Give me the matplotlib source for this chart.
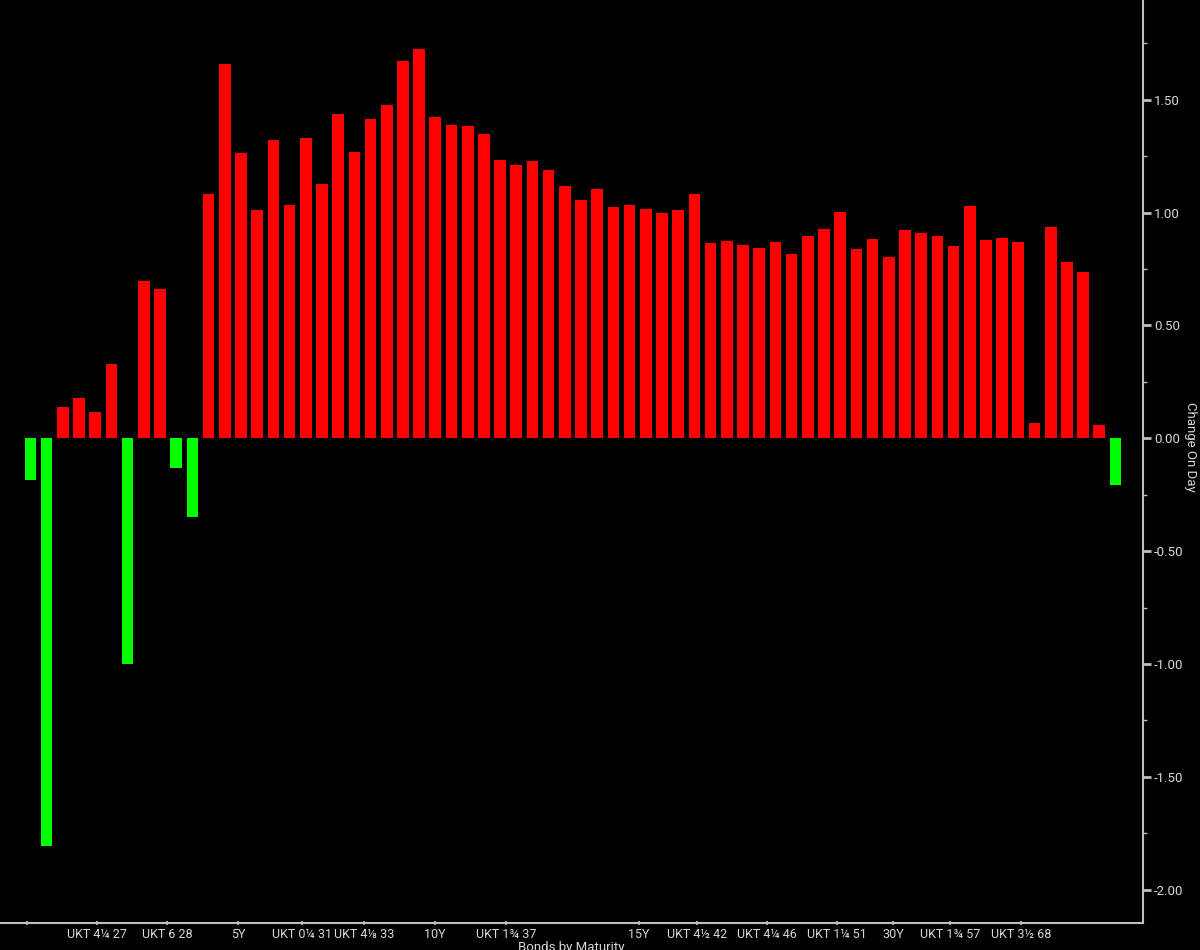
import matplotlib
matplotlib.use("Agg")
import matplotlib.pyplot as plt
from matplotlib.ticker import MultipleLocator, FixedLocator, FixedFormatter
import numpy as np

plt.rcParams['font.family'] = ['Roboto', 'DejaVu Sans']

# ---- data ----
values = [-0.185, -1.805, 0.140, 0.180, 0.115, 0.328, -1.001, 0.698, 0.661, -0.133,
          -0.347, 1.082, 1.659, 1.264, 1.013, 1.320, 1.034, 1.329, 1.128, 1.437,
          1.268, 1.413, 1.478, 1.672, 1.725, 1.425, 1.388, 1.384, 1.348, 1.232,
          1.211, 1.227, 1.187, 1.118, 1.056, 1.106, 1.025, 1.034, 1.017, 0.998,
          1.011, 1.082, 0.864, 0.875, 0.856, 0.845, 0.868, 0.816, 0.896, 0.929,
          1.003, 0.840, 0.884, 0.805, 0.921, 0.908, 0.896, 0.852, 1.029, 0.880,
          0.887, 0.868, 0.069, 0.936, 0.782, 0.735, 0.059, -0.207]
tick_labels = ['', 'UKT 4¼ 27', 'UKT 6 28', '5Y', 'UKT 0¼ 31', 'UKT 4⅛ 33', '10Y',
               'UKT 1¾ 37', '15Y', 'UKT 4½ 42', 'UKT 4¼ 46', 'UKT 1¼ 51', '30Y',
               'UKT 1¾ 57', 'UKT 3½ 68']
tick_pos = [-0.22, 4.11, 8.43, 12.82, 16.77, 20.6, 24.98, 29.37, 37.58, 41.16,
            45.49, 49.81, 53.27, 56.79, 61.18]
y_label = 'Change On Day'
x_label = 'Bonds by Maturity'

x = np.arange(len(values))
vals = np.array(values)
colors = np.where(vals >= 0, '#ff0000', '#00ff00')

fig = plt.figure(figsize=(12, 9.5), dpi=100, facecolor='black')
ax = fig.add_axes([0.0, 0.0281, 0.9525, 0.9719], facecolor='black')

ax.bar(x, vals, width=0.72, color=colors, linewidth=0)

ax.set_xlim(-1.88, 68.7)
ax.set_ylim(-2.149, 1.942)

spine_col = '#bdbdbd'
for s in ['left', 'top']:
    ax.spines[s].set_visible(False)
for s in ['right', 'bottom']:
    ax.spines[s].set_color(spine_col)
    ax.spines[s].set_linewidth(1.5)

ax.yaxis.tick_right()
ax.yaxis.set_major_locator(MultipleLocator(0.5))
ax.yaxis.set_minor_locator(MultipleLocator(0.25))
ax.yaxis.set_major_formatter(plt.FuncFormatter(lambda v, p: f'{v:.2f}'))
ax.tick_params(axis='y', which='major', colors=spine_col, labelcolor='#d8d8d8',
               length=6, width=2, labelsize=9.5, pad=2)
ax.tick_params(axis='y', which='minor', colors=spine_col, length=3, width=1)

ax.xaxis.set_major_locator(FixedLocator(tick_pos))
ax.xaxis.set_major_formatter(FixedFormatter(tick_labels))
ax.tick_params(axis='x', which='major', colors=spine_col, labelcolor='#d8d8d8',
               length=3, width=1.2, labelsize=9, pad=2, direction='inout')

fig.text(1191 / 1200, 1 - 447 / 950, y_label, rotation=270, ha='center', va='center',
         color='#d8d8d8', fontsize=9.5)
fig.text(571.5 / 1200, 1 - 941 / 950, x_label, ha='center', va='top',
         color='#d8d8d8', fontsize=9.5)

fig.savefig('out.png', dpi=100, facecolor='black')
